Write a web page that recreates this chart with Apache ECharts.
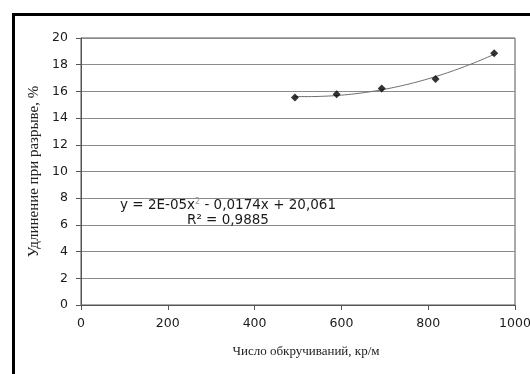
<!DOCTYPE html>
<html>
<head>
<meta charset="utf-8">
<script src="https://cdn.jsdelivr.net/npm/echarts@6/dist/echarts.min.js"></script>
<style>
html,body{margin:0;padding:0;background:#fff;}
#chart{width:530px;height:374px;}
</style>
</head>
<body>
<div id="chart"></div>
<script>
// Data
var twists = [493, 589, 693, 817, 952];
var elongation = [15.55, 15.78, 16.22, 16.92, 18.85];
var xTicks = [0, 200, 400, 600, 800, 1000];
var yTicks = [0, 2, 4, 6, 8, 10, 12, 14, 16, 18, 20];
var xTitle = 'Число обкручиваний, кр/м';
var yTitle = 'Удлинение при разрыве, %';
var eqText = 'y = 2E-05x';
var eqText2 = ' - 0,0174x + 20,061';
var r2Text = 'R² = 0,9885';

// Quadratic least-squares trendline fitted to the data points
function polyfit2(xs, ys) {
  var n = xs.length, S = [0,0,0,0,0], T = [0,0,0];
  for (var i = 0; i < n; i++) {
    var p = 1;
    for (var k = 0; k < 5; k++) { S[k] += p; if (k < 3) T[k] += p * ys[i]; p *= xs[i]; }
  }
  var A = [[S[0],S[1],S[2],T[0]],[S[1],S[2],S[3],T[1]],[S[2],S[3],S[4],T[2]]];
  for (var c = 0; c < 3; c++) {
    for (var r = c + 1; r < 3; r++) {
      var f = A[r][c] / A[c][c];
      for (var j = c; j < 4; j++) A[r][j] -= f * A[c][j];
    }
  }
  var co = [0,0,0];
  for (var r2 = 2; r2 >= 0; r2--) {
    var s = A[r2][3];
    for (var j2 = r2 + 1; j2 < 3; j2++) s -= A[r2][j2] * co[j2];
    co[r2] = s / A[r2][r2];
  }
  return co;
}
var co = polyfit2(twists, elongation);
var trend = [];
var x0 = twists[0], x1 = twists[twists.length - 1];
for (var t = 0; t <= 60; t++) {
  var xv = x0 + (x1 - x0) * t / 60;
  trend.push([xv, co[0] + co[1] * xv + co[2] * xv * xv]);
}

var chart = echarts.init(document.getElementById('chart'), null, {renderer: 'canvas'});
var labelFont = {fontFamily: 'DejaVu Sans', fontSize: 12.5, color: '#1a1a1a'};
chart.setOption({
  animation: false,
  backgroundColor: '#fff',
  grid: {left: 81, top: 38, right: 15, bottom: 69, outerBoundsMode: 'none', containLabel: false,
         show: true, borderColor: '#555', borderWidth: 1, backgroundColor: 'transparent'},
  xAxis: {
    type: 'value', min: 0, max: 1000, interval: 200,
    name: xTitle, nameLocation: 'middle', nameGap: 40,
    nameTextStyle: {fontFamily: 'Liberation Serif', fontSize: 13, color: '#222', padding: [0, 0, 0, 16]},
    axisLine: {show: true, lineStyle: {color: '#555', width: 1}},
    axisTick: {show: true, inside: false, length: 5, lineStyle: {color: '#555'}},
    axisLabel: Object.assign({margin: 12, formatter: function(v){ return xTicks.indexOf(v) >= 0 ? String(v) : ''; }}, labelFont),
    splitLine: {show: false}
  },
  yAxis: {
    type: 'value', min: 0, max: 20, interval: 2,
    name: yTitle, nameLocation: 'middle', nameGap: 39, nameRotate: 90,
    nameTextStyle: {fontFamily: 'Liberation Serif', fontSize: 15, color: '#222'},
    axisLine: {show: true, lineStyle: {color: '#555', width: 1}},
    axisTick: {show: true, inside: false, length: 5, lineStyle: {color: '#555'}},
    axisLabel: Object.assign({margin: 13, formatter: function(v){ return yTicks.indexOf(v) >= 0 ? String(v) : ''; }}, labelFont),
    splitLine: {show: true, lineStyle: {color: '#8a8a8a', width: 1}}
  },
  series: [
    {
      type: 'line', data: trend, showSymbol: false, symbol: 'none',
      lineStyle: {color: '#6e6e6e', width: 1}, z: 2, silent: true
    },
    {
      type: 'scatter', data: twists.map(function(x, i){ return [x, elongation[i]]; }),
      symbol: 'diamond', symbolSize: 8,
      itemStyle: {color: '#000'}, z: 3
    }
  ],
  graphic: [
    {type: 'rect', left: 11, top: 12, shape: {x: 0, y: 0, width: 700, height: 500},
     style: {fill: 'none', stroke: '#000', lineWidth: 3}, z: 100},
    {type: 'text', x: 228, y: 198, z: 50,
     style: {text: '{a|' + eqText + '}{s|2}{a|' + eqText2 + '}', align: 'center', rich: {
       a: {fontFamily: 'DejaVu Sans', fontSize: 13.5, fill: '#1a1a1a', lineHeight: 15},
       s: {fontFamily: 'DejaVu Sans', fontSize: 8, fill: '#999', verticalAlign: 'top', lineHeight: 15, padding: [0,0,6,0]}
     }}},
    {type: 'text', x: 228, y: 213, z: 50,
     style: {text: r2Text, font: '13.5px "DejaVu Sans"', fill: '#1a1a1a', align: 'center'}}
  ]
});
</script>
</body>
</html>
